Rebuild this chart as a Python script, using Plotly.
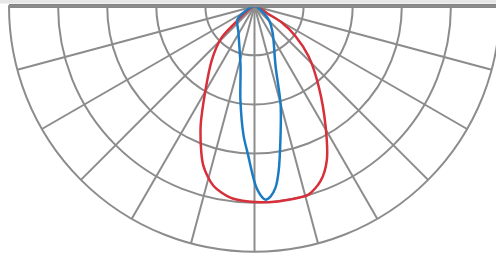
import plotly.graph_objects as go

# Luminous intensity curves (theta in degrees from nadir, r as fraction of max)
red_theta = [-50, -49, -46, -38.4, -30.6, -24, -17.9, -12.9, -7.2, -1.8, 4, 10, 16, 20.8, 25.1, 30.6, 38.7, 47.2, 53.8, 59.3, 60.5, 62]
red_r = [0.0, 0.11, 0.19, 0.28, 0.39, 0.54, 0.68, 0.75, 0.786, 0.796, 0.80, 0.80, 0.798, 0.76, 0.694, 0.569, 0.418, 0.30, 0.207, 0.128, 0.066, 0.0]

blue_theta = [-62, -52.6, -31.6, -13.1, -8.6, -4.8, -2.5, -1.0, 0.5, 2.4, 3.3, 4.8, 6.6, 8.3, 11.2, 14.9, 19.3, 34.7, 47.1, 60]
blue_r = [0.0, 0.087, 0.125, 0.251, 0.384, 0.530, 0.605, 0.670, 0.735, 0.780, 0.789, 0.778, 0.744, 0.680, 0.545, 0.414, 0.260, 0.129, 0.078, 0.0]

ring_levels = [0.2, 0.4, 0.6, 0.8]
angle_step = 15

GRID = "#8c8c8c"

fig = go.Figure()
fig.add_trace(go.Scatterpolar(
    r=red_r, theta=red_theta, mode="lines",
    line=dict(color="#d7303b", width=2.5, shape="spline", smoothing=0.8),
    hoverinfo="skip"))
fig.add_trace(go.Scatterpolar(
    r=blue_r, theta=blue_theta, mode="lines",
    line=dict(color="#1b7cc3", width=2.5, shape="spline", smoothing=0.8),
    hoverinfo="skip"))

W, HGT = 500, 258
ML, MR, MT, MB = 9, 0, 6, 6
H = HGT - MT - MB
fig.update_layout(
    width=W, height=HGT,
    margin=dict(l=ML, r=MR, t=MT, b=MB),
    paper_bgcolor="white",
    showlegend=False,
    polar=dict(
        sector=[180, 360],
        bgcolor="rgba(0,0,0,0)",
        radialaxis=dict(range=[0, 1], tickvals=ring_levels, showticklabels=False,
                        ticks="", showline=False, gridcolor=GRID, gridwidth=2),
        angularaxis=dict(rotation=-90, direction="counterclockwise",
                         tickmode="linear", tick0=0, dtick=angle_step,
                         showticklabels=False, ticks="",
                         gridcolor=GRID, gridwidth=2,
                         linecolor=GRID, linewidth=2),
    ),
    shapes=[
        dict(type="rect", xref="paper", yref="paper",
             x0=-0.05, x1=1.05, y0=1 + 2.5 / H, y1=1 + 7 / H,
             fillcolor="#e6e6e6", line=dict(width=0), layer="below"),
        dict(type="line", xref="paper", yref="paper",
             x0=0, x1=1.02, y0=1, y1=1,
             line=dict(color="#848484", width=4), layer="below"),
    ],
)

fig.write_html(
    "out.html",
    config={"displayModeBar": False},
    post_script="document.documentElement.style.overflow='hidden';"
                "document.body.style.margin='0';document.body.style.overflow='hidden';",
)
